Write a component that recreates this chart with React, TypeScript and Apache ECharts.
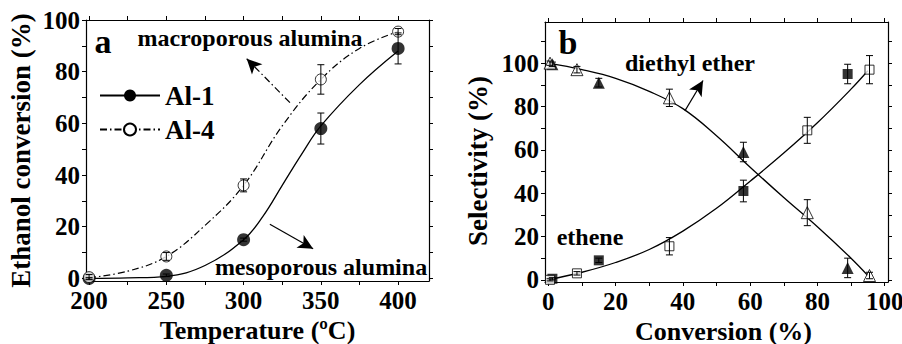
import React, { useEffect, useRef } from 'react';
import * as echarts from 'echarts';

// ---------- Panel a: ethanol conversion vs temperature ----------
const tempTicks = [200, 225, 250, 275, 300, 325, 350, 375, 400];
const tempLabels = [200, 250, 300, 350, 400];
const convTicksA = [0, 10, 20, 30, 40, 50, 60, 70, 80, 90, 100];
const convLabelsA = [0, 20, 40, 60, 80, 100];

const temperatures = [200, 250, 300, 350, 400];
const al1Conversion = [0, 1.2, 15, 58, 89];
const al1ConvErr = [0.3, 0.5, 0.6, 6, 6];
const al4Conversion = [0.5, 8.5, 36, 77, 95.5];
const al4ConvErr = [1, 1.5, 2.5, 5.7, 1.2];

const al1FitTemp = [200, 225, 250, 275, 300, 312.5, 325, 337.5, 350, 375, 400];
const al1FitConv = [0, 0.2, 0.8, 5, 15, 24, 36, 48, 59, 75, 88];
const al4FitTemp = [200, 225, 250, 275, 300, 325, 350, 375, 400];
const al4FitConv = [0.3, 2.8, 8.5, 20.5, 36, 59, 77, 89, 95.5];

const macroArrow = [[330, 68], [302, 85]];
const mesoArrow = [[317, 21], [345, 11.5]];

// ---------- Panel b: selectivity vs conversion ----------
const convTicksB = [0, 10, 20, 30, 40, 50, 60, 70, 80, 90, 100];
const convLabelsB = [0, 20, 40, 60, 80, 100];
const selTicks = [0, 10, 20, 30, 40, 50, 60, 70, 80, 90, 100, 110];
const selLabels = [0, 20, 40, 60, 80, 100];

const al1X = [1.2, 15, 58, 89];
const al1Dee = [99.5, 91, 59, 5.5];
const al1DeeErr = [1, 2, 4.5, 4.5];
const al1Ethene = [0.5, 9, 41, 95];
const al1EtheneErr = [0.5, 1, 5, 4.5];

const al4X = [0.5, 8.5, 36, 77, 95.5];
const al4Dee = [100, 97, 84, 31, 2];
const al4DeeErr = [1, 1.5, 4, 6, 1.5];
const al4Ethene = [0, 3, 15.5, 69, 97];
const al4EtheneErr = [0.5, 0.8, 4, 6, 6.5];

const fitX = [0, 10, 20, 30, 40, 50, 60, 70, 80, 90, 95];
const deeFit = [100, 97, 93, 87, 79, 66.5, 52, 38, 24.5, 10, 2];
const etheneFit = [0, 3.5, 8, 14, 22.5, 33, 45.5, 58.5, 72.5, 88, 96.5];

const deeArrow = [[40.6, 78], [46, 92]];

const FONT = 'Liberation Serif';
const DASHDOT = [7, 3, 1.5, 3];

const zip = (a: number[], b: number[]) => a.map((v, i) => [v, b[i]]);
const zip3 = (a: number[], b: number[], c: number[]) => a.map((v, i) => [v, b[i], c[i]]);

const errRender = (_params: any, api: any) => {
  const x = api.value(0);
  const y = api.value(1);
  const e = api.value(2);
  const lo = api.coord([x, y - e]);
  const hi = api.coord([x, y + e]);
  const w = 3.5;
  const style = { stroke: '#000', lineWidth: 1 };
  return {
    type: 'group',
    children: [
      { type: 'line', shape: { x1: lo[0], y1: lo[1], x2: hi[0], y2: hi[1] }, style },
      { type: 'line', shape: { x1: lo[0] - w, y1: lo[1], x2: lo[0] + w, y2: lo[1] }, style },
      { type: 'line', shape: { x1: hi[0] - w, y1: hi[1], x2: hi[0] + w, y2: hi[1] }, style },
    ],
  };
};

const errSeries = (xi: number, data: number[][]) => ({
  type: 'custom',
  xAxisIndex: xi,
  yAxisIndex: xi,
  renderItem: errRender,
  data,
  encode: { x: 0, y: 1 },
  z: 5,
  silent: true,
});

const axisCommon = (gridIndex: number, min: number, max: number, ticks: number[], labels: number[], position: string, showLabel: boolean, margin = 6) => ({
  type: 'value',
  gridIndex,
  min,
  max,
  position,
  splitLine: { show: false },
  axisLine: { show: true, onZero: false, lineStyle: { color: '#000', width: 1.2 } },
  axisTick: { show: true, customValues: ticks, length: 4, lineStyle: { color: '#000', width: 1 } },
  axisLabel: {
    show: showLabel,
    customValues: labels,
    color: '#000',
    fontFamily: FONT,
    fontWeight: 'bold',
    fontSize: 25,
    margin,
  },
});

const nameStyle = { color: '#000', fontFamily: FONT, fontWeight: 'bold', fontSize: 27 };

const arrowLine = (pts: number[][], dashed: boolean) => ({
  silent: true,
  symbol: ['none', 'arrow'],
  symbolSize: [11, 15],
  label: { show: false },
  emphasis: { disabled: true },
  lineStyle: { color: '#000', width: 1.2, type: dashed ? DASHDOT : 'solid' },
  itemStyle: { color: '#000' },
  data: [[{ coord: pts[0] }, { coord: pts[1] }]],
});

const txt = (text: string, x: number, y: number, size: number) => ({
  type: 'text',
  x,
  y,
  z: 10,
  style: {
    text,
    fill: '#000',
    fontFamily: FONT,
    fontWeight: 'bold',
    fontSize: size,
    align: 'center',
    verticalAlign: 'middle',
  },
});

export default function App() {
  const ref = useRef<HTMLDivElement>(null);
  useEffect(() => {
    if (!ref.current) return;
    const chart = echarts.init(ref.current, null, { renderer: 'svg' });
    const legendText = { color: '#000', fontFamily: FONT, fontWeight: 'bold', fontSize: 27 };
    const xNameStyle = { ...nameStyle, fontSize: 26 };
    const option: any = {
      animation: false,
      backgroundColor: '#fff',
      textStyle: { fontFamily: FONT },
      grid: [
        { left: 86, top: 20, width: 343, height: 261, outerBoundsMode: 'none', containLabel: false },
        { left: 545, top: 22, width: 343, height: 260, outerBoundsMode: 'none', containLabel: false },
      ],
      xAxis: [
        {
          ...axisCommon(0, 198, 420, tempTicks, tempLabels, 'bottom', true, 7),
          name: 'Temperature (ºC)',
          nameLocation: 'middle',
          nameGap: 30,
          nameTextStyle: xNameStyle,
        },
        {
          ...axisCommon(1, -1, 101, convTicksB, convLabelsB, 'bottom', true, 7),
          name: 'Conversion (%)',
          nameLocation: 'middle',
          nameGap: 27,
          nameTextStyle: { ...xNameStyle, padding: [0, 0, 0, 14] },
        },
        axisCommon(0, 198, 420, tempTicks, tempLabels, 'top', false),
        axisCommon(1, -1, 101, convTicksB, convLabelsB, 'top', false),
      ],
      yAxis: [
        {
          ...axisCommon(0, -1, 100, convTicksA, convLabelsA, 'left', true),
          name: 'Ethanol conversion (%)',
          nameLocation: 'middle',
          nameGap: 52,
          nameTextStyle: nameStyle,
        },
        {
          ...axisCommon(1, -1, 119, selTicks, selLabels, 'left', true),
          name: 'Selectivity (%)',
          nameLocation: 'middle',
          nameGap: 54,
          nameTextStyle: { ...nameStyle, padding: [0, 18, 0, 0] },
        },
        axisCommon(0, -1, 100, convTicksA, convLabelsA, 'right', false),
        axisCommon(1, -1, 119, selTicks, selLabels, 'right', false),
      ],
      legend: [
        {
          data: ['Al-1'],
          left: 94,
          top: 77,
          itemWidth: 60,
          itemHeight: 15,
          selectedMode: false,
          textStyle: legendText,
        },
        {
          data: ['Al-4'],
          left: 94,
          top: 111,
          itemWidth: 60,
          itemHeight: 15,
          selectedMode: false,
          textStyle: legendText,
        },
      ],
      series: [
        {
          name: 'Al-1',
          type: 'line',
          xAxisIndex: 0,
          yAxisIndex: 0,
          data: zip(al1FitTemp, al1FitConv),
          smooth: 0.4,
          symbol: 'circle',
          showSymbol: false,
          lineStyle: { color: '#000', width: 1.3 },
          itemStyle: { color: '#000' },
          z: 2,
          silent: true,
        },
        {
          name: 'Al-4',
          type: 'line',
          xAxisIndex: 0,
          yAxisIndex: 0,
          data: zip(al4FitTemp, al4FitConv),
          smooth: 0.4,
          symbol: 'circle',
          showSymbol: false,
          lineStyle: { color: '#000', width: 1.2, type: DASHDOT },
          itemStyle: { color: '#fff', borderColor: '#000', borderWidth: 1 },
          z: 2,
          silent: true,
        },
        {
          name: 'Al-1 points',
          type: 'scatter',
          xAxisIndex: 0,
          yAxisIndex: 0,
          data: zip(temperatures, al1Conversion),
          symbol: 'circle',
          symbolSize: 13,
          itemStyle: { color: '#000' },
          z: 3,
          markLine: arrowLine(mesoArrow, false),
        },
        {
          name: 'Al-4 points',
          type: 'scatter',
          xAxisIndex: 0,
          yAxisIndex: 0,
          data: zip(temperatures, al4Conversion),
          symbol: 'circle',
          symbolSize: 11,
          itemStyle: { color: '#fff', borderColor: '#000', borderWidth: 1 },
          z: 3,
          markLine: arrowLine(macroArrow, true),
        },
        errSeries(0, zip3(temperatures, al1Conversion, al1ConvErr)),
        errSeries(0, zip3(temperatures, al4Conversion, al4ConvErr)),

        {
          name: 'diethyl ether fit',
          type: 'line',
          xAxisIndex: 1,
          yAxisIndex: 1,
          data: zip(fitX, deeFit),
          smooth: 0.4,
          showSymbol: false,
          lineStyle: { color: '#000', width: 1.3 },
          z: 2,
          silent: true,
          markLine: arrowLine(deeArrow, false),
        },
        {
          name: 'ethene fit',
          type: 'line',
          xAxisIndex: 1,
          yAxisIndex: 1,
          data: zip(fitX, etheneFit),
          smooth: 0.4,
          showSymbol: false,
          lineStyle: { color: '#000', width: 1.3 },
          z: 2,
          silent: true,
        },
        {
          name: 'Al-1 DEE',
          type: 'scatter',
          xAxisIndex: 1,
          yAxisIndex: 1,
          data: zip(al1X, al1Dee),
          symbol: 'triangle',
          symbolSize: 12,
          itemStyle: { color: '#000' },
          z: 3,
        },
        {
          name: 'Al-4 DEE',
          type: 'scatter',
          xAxisIndex: 1,
          yAxisIndex: 1,
          data: zip(al4X, al4Dee),
          symbol: 'triangle',
          symbolSize: 12,
          itemStyle: { color: '#fff', borderColor: '#000', borderWidth: 1 },
          z: 3,
        },
        {
          name: 'Al-1 ethene',
          type: 'scatter',
          xAxisIndex: 1,
          yAxisIndex: 1,
          data: zip(al1X, al1Ethene),
          symbol: 'rect',
          symbolSize: 10,
          itemStyle: { color: '#000' },
          z: 3,
        },
        {
          name: 'Al-4 ethene',
          type: 'scatter',
          xAxisIndex: 1,
          yAxisIndex: 1,
          data: zip(al4X, al4Ethene),
          symbol: 'rect',
          symbolSize: 9,
          itemStyle: { color: '#fff', borderColor: '#000', borderWidth: 1 },
          z: 3,
        },
        errSeries(1, zip3(al1X, al1Dee, al1DeeErr)),
        errSeries(1, zip3(al4X, al4Dee, al4DeeErr)),
        errSeries(1, zip3(al1X, al1Ethene, al1EtheneErr)),
        errSeries(1, zip3(al4X, al4Ethene, al4EtheneErr)),
      ],
      graphic: [
        txt('a', 103, 41, 34),
        txt('macroporous alumina', 250, 38, 24),
        txt('mesoporous alumina', 321, 267, 24),
        txt('b', 568, 42, 34),
        txt('diethyl ether', 690, 63, 24),
        txt('ethene', 590, 237, 24),
      ],
    };
    chart.setOption(option);
    return () => chart.dispose();
  }, []);
  return (
    <div
      ref={ref}
      style={{ position: 'fixed', left: 0, top: 0, width: 902, height: 344, background: '#fff' }}
    />
  );
}
